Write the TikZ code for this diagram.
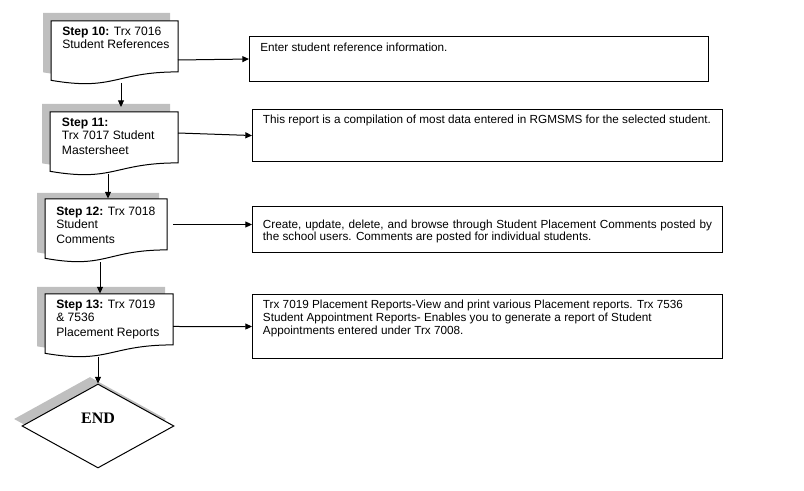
\documentclass[tikz,border=0pt]{standalone}
\usepackage{fontspec}
\setmainfont{Liberation Sans}
\newfontfamily\endfont{Liberation Serif}
\usetikzlibrary{arrows.meta,calc,shapes.geometric}
\tikzset{
  shadowfill/.style={fill=black!25,draw=none},
  docline/.style={draw=black,line width=0.75pt,fill=white},
  arr/.style={-{Triangle[length=5pt,width=4.5pt]},line width=0.75pt},
  boxst/.style={draw=black,line width=0.8pt,anchor=north west,inner sep=0pt},
  doctext/.style={anchor=base west,inner sep=0pt,align=left,font={\fontsize{9.1pt}{9.7pt}\selectfont}},
  boxtext/.style={anchor=base west,inner sep=0pt,align=left,font={\fontsize{8.8pt}{9.5pt}\selectfont}},
  endtext/.style={inner sep=0pt,font={\endfont\bfseries\fontsize{12pt}{14pt}\selectfont}},
  enddiamond/.style={diamond,inner sep=0pt,minimum width=152*0.75pt,minimum height=84*0.75pt}
}
% #1 x1, #2 y1, #3 x2, #4 shadow dx, #5 shadow dy
\newcommand\docshapebox[5]{%
  \fill[shadowfill] ({#1+#4},{#2+#5}) -- ({#3+#4},{#2+#5}) -- ({#3+#4},{#2+#5+50.9})
     .. controls ({(#1+#3)/2+#4},{#2+#5+50.9}) and ({(#1+#3)/2+#4},{#2+#5+70.3}) .. ({#1+#4},{#2+#5+59.3}) -- cycle;
  \draw[docline] (#1,#2) -- (#3,#2) -- (#3,{#2+50.9})
     .. controls ({(#1+#3)/2},{#2+50.9}) and ({(#1+#3)/2},{#2+70.3}) .. (#1,{#2+59.3}) -- cycle;
}
\begin{document}
\begin{tikzpicture}[x=0.75pt,y=-0.75pt]
\useasboundingbox (0,0) rectangle (804,491);

% documents
\docshapebox{51}{21}{178}{-8}{-8}
\docshapebox{50}{112}{178}{-8}{-8}
\docshapebox{45}{199}{167}{-8}{-6}
\docshapebox{45}{294}{173}{-8}{-7}

% (base anchor = baseline of the last line)
\node[doctext] (s10) at (62,48.3) {\textbf{Step 10:} Trx 7016\\[-0.4pt]Student References};
\node[doctext] (s11) at (61.7,155) {\textbf{Step 11:}\\Trx 7017 Student\\[1.6pt]Mastersheet};
\node[doctext] (s12) at (56,243.3) {\textbf{Step 12:} Trx 7018\\Student\\[1.6pt]Comments};
\node[doctext] (s13) at (56,336.7) {\textbf{Step 13:} Trx 7019\\\&  7536\\[1.6pt]Placement Reports};

% description boxes
\node[boxst,minimum width=459*0.75pt,minimum height=45*0.75pt] (b1) at (249,36) {};
\node[boxst,minimum width=470*0.75pt,minimum height=52*0.75pt] (b2) at (252,109) {};
\node[boxst,minimum width=470*0.75pt,minimum height=46*0.75pt] (b3) at (252,206) {};
\node[boxst,minimum width=470*0.75pt,minimum height=64*0.75pt] (b4) at (252,294) {};

\node[boxtext] (t1) at (260,51.7) {Enter student reference information.};
\node[boxtext] (t2) at (262.7,124) {This report is a compilation of most data entered in RGMSMS for the selected student.};
\node[boxtext] (t3) at (262.7,241) {\makebox[336.75pt][s]{Create, update, delete, and browse through Student Placement Comments posted by}\\the school users. Comments are posted for individual students.};
\node[boxtext] (t4) at (262.7,334.3) {Trx 7019 Placement Reports-View and print various Placement reports. Trx 7536\\Student Appointment Reports- Enables you to generate a report of Student\\Appointments entered under Trx 7008.};

% END diamond
\node[enddiamond,shadowfill] (endsh) at (90,419) {};
\node[enddiamond,draw=black,line width=0.75pt,fill=white] (end) at (98,426) {};
\node[endtext] (endlbl) at (98,418) {END};

% connector end points
\coordinate (a1s) at (178,60);
\coordinate (a2s) at (178,133);
\coordinate (a3s) at (173,224.5);
\coordinate (a4s) at (173,326.5);
\coordinate (v1s) at (121,83);
\coordinate (v1e) at (121,107);
\coordinate (v2s) at (108,174);
\coordinate (v2e) at (108,198.5);
\coordinate (v3s) at (100,262.5);
\coordinate (v3e) at (100,293.5);
\coordinate (v4s) at (98,357);

\draw[arr] (a1s) -- (b1.west);
\draw[arr] (a2s) -- (b2.west);
\draw[arr] (a3s) -- (a3s -| b3.west);
\draw[arr] (a4s) -- (b4.west);
\draw[arr] (v1s) -- (v1e);
\draw[arr] (v2s) -- (v2e);
\draw[arr] (v3s) -- (v3e);
\draw[arr] (v4s) -- (end.north);
\end{tikzpicture}
\end{document}
